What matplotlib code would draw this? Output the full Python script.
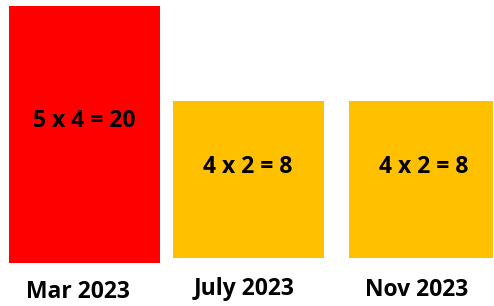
import matplotlib.pyplot as plt

# data
months = ["Mar 2023", "July 2023", "Nov 2023"]
sides_a = [5, 4, 4]
sides_b = [4, 2, 2]
colors = ["#FF0000", "#FFC000", "#FFC000"]

# layout in pixels (figure is 494 x 306)
lefts = [9, 173, 349]
widths = [151, 151, 144]
tops = [6, 101, 101]
bottoms = [263, 258, 258]
text_x = [84, 248, 423.5]
text_base = [127, 173, 173]
label_x = [77.5, 244.5, 417]
label_base = [298, 295, 296.5]

fig = plt.figure(figsize=(4.94, 3.06), dpi=100)
ax = fig.add_axes([0, 0, 1, 1])
ax.set_xlim(0, 494)
ax.set_ylim(306, 0)
ax.axis("off")

heights = [b - t for t, b in zip(tops, bottoms)]
ax.bar(lefts, heights, width=widths, bottom=tops, align="edge", color=colors)

for i in range(len(months)):
    ax.text(text_x[i], text_base[i], f"{sides_a[i]} x {sides_b[i]} = {sides_a[i] * sides_b[i]}",
            ha="center", va="baseline", fontsize=16.5, fontweight="bold", family="Open Sans")
    ax.text(label_x[i], label_base[i], months[i], ha="center", va="baseline",
            fontsize=16.5, fontweight="bold", family="Open Sans")

fig.savefig("out.png", dpi=100)
